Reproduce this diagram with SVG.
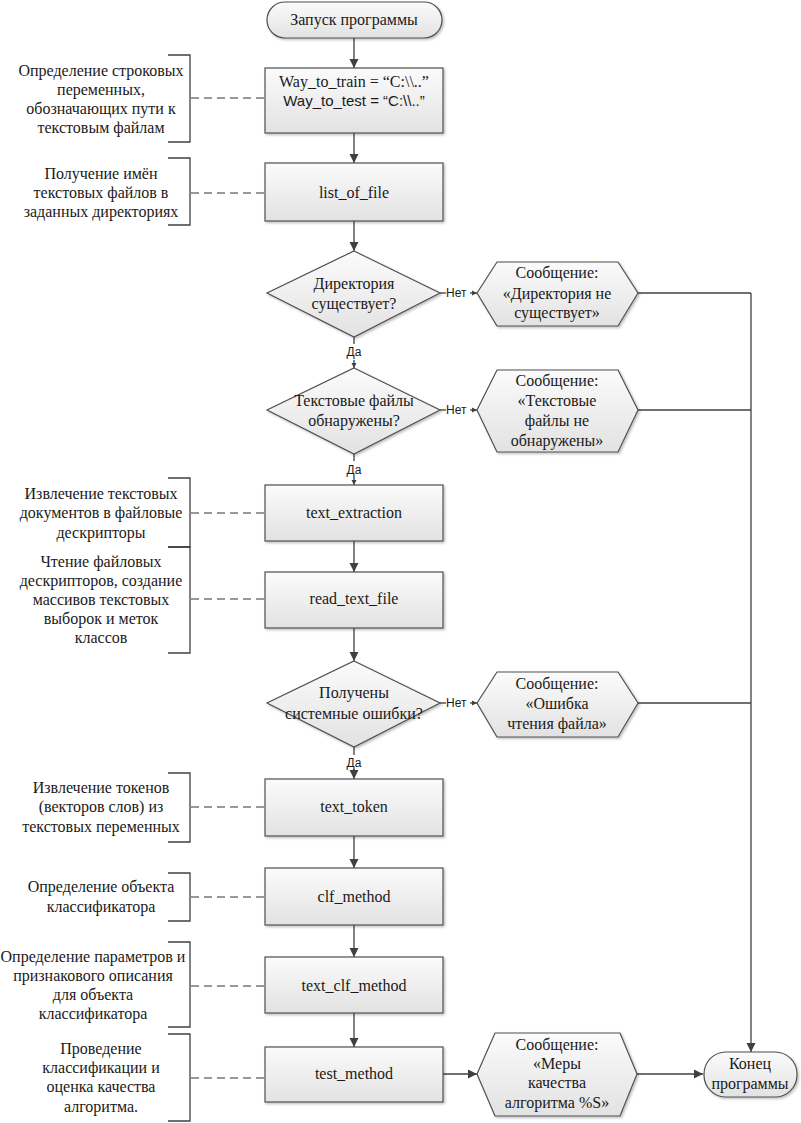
<svg xmlns="http://www.w3.org/2000/svg" width="801" height="1123" viewBox="0 0 801 1123">
<defs>
<linearGradient id="g" x1="0" y1="0" x2="0" y2="1">
<stop offset="0" stop-color="#fbfbfb"/>
<stop offset="1" stop-color="#e2e2e2"/>
</linearGradient>
<filter id="sh" x="-10%" y="-10%" width="125%" height="130%">
<feDropShadow dx="1.5" dy="1.5" stdDeviation="1" flood-color="#000" flood-opacity="0.25"/>
</filter>
<marker id="a" markerUnits="userSpaceOnUse" markerWidth="10" markerHeight="10" refX="9" refY="5" orient="auto">
<path d="M0,0.5 L9,5 L0,9.5 Z" fill="#404040"/>
</marker>
<marker id="s" markerUnits="userSpaceOnUse" markerWidth="6" markerHeight="6" refX="5" refY="3" orient="auto">
<path d="M0,0.5 L5,3 L0,5.5 Z" fill="#404040"/>
</marker>
</defs>
<style>
.n{fill:url(#g);stroke:#505050;stroke-width:1.2;filter:url(#sh)}
.t{font-family:'Liberation Serif','Times New Roman','DejaVu Serif',serif;font-size:16px;fill:#1a1a1a;text-anchor:middle}
.ts{font-family:'Liberation Sans',Arial,sans-serif;font-size:15px;fill:#1a1a1a;text-anchor:middle}
.l{font-family:'Liberation Sans',Arial,sans-serif;font-size:12px;fill:#1a1a1a}
.c{fill:none;stroke:#404040;stroke-width:1.3}
.ca{fill:none;stroke:#404040;stroke-width:1.3;marker-end:url(#a)}
.cs{fill:none;stroke:#404040;stroke-width:1.3;marker-end:url(#s)}
.d{fill:none;stroke:#333;stroke-width:1.2;stroke-dasharray:8 5}
.b{fill:none;stroke:#404040;stroke-width:1.3}
</style>

<g id="connectors">
<line class="ca" x1="354" y1="38" x2="354" y2="68"/>
<line class="ca" x1="354" y1="133" x2="354" y2="163"/>
<line class="ca" x1="354" y1="221" x2="354" y2="251"/>
<line class="c" x1="354" y1="337" x2="354" y2="344"/>
<line class="cs" x1="354" y1="360" x2="354" y2="368"/>
<line class="c" x1="354" y1="454" x2="354" y2="461"/>
<line class="cs" x1="354" y1="477" x2="354" y2="485"/>
<line class="ca" x1="354" y1="541" x2="354" y2="572"/>
<line class="ca" x1="354" y1="628" x2="354" y2="661"/>
<line class="c" x1="354" y1="747" x2="354" y2="755"/>
<line class="ca" x1="354" y1="769" x2="354" y2="779"/>
<line class="ca" x1="354" y1="836" x2="354" y2="868"/>
<line class="ca" x1="354" y1="925" x2="354" y2="957"/>
<line class="ca" x1="354" y1="1013" x2="354" y2="1047"/>
<line class="ca" x1="443" y1="1074" x2="477" y2="1074"/>
<line class="ca" x1="637" y1="1074" x2="703" y2="1074"/>
<line class="c" x1="440" y1="293" x2="446" y2="293"/>
<line class="cs" x1="470" y1="293" x2="477" y2="293"/>
<line class="c" x1="440" y1="410" x2="446" y2="410"/>
<line class="cs" x1="470" y1="410" x2="477" y2="410"/>
<line class="c" x1="440" y1="703" x2="446" y2="703"/>
<line class="cs" x1="470" y1="703" x2="477" y2="703"/>
<polyline class="c" points="638,293 751,293"/>
<polyline class="c" points="638,410 751,410"/>
<polyline class="c" points="638,703 751,703"/>
<line class="ca" x1="751" y1="293" x2="751" y2="1052"/>
<text class="l" x="354" y="356" text-anchor="middle">Да</text>
<text class="l" x="354" y="474" text-anchor="middle">Да</text>
<text class="l" x="354" y="767" text-anchor="middle" font-size="10">Да</text>
<text class="l" x="446" y="297">Нет</text>
<text class="l" x="446" y="414">Нет</text>
<text class="l" x="446" y="707">Нет</text>
<line class="d" x1="191" y1="98" x2="265" y2="98"/>
<line class="d" x1="191" y1="193" x2="265" y2="193"/>
<line class="d" x1="191" y1="513" x2="265" y2="513"/>
<line class="d" x1="191" y1="599" x2="265" y2="599"/>
<line class="d" x1="191" y1="807" x2="265" y2="807"/>
<line class="d" x1="191" y1="897" x2="265" y2="897"/>
<line class="d" x1="191" y1="986" x2="265" y2="986"/>
<line class="d" x1="191" y1="1078" x2="265" y2="1078"/>
</g>

<g id="start">
<rect class="n" x="267" y="2" width="175" height="36" rx="18"/>
<text class="t" x="354" y="25">Запуск программы</text>
</g>
<g id="paths">
<rect class="n" x="265" y="68" width="178" height="65"/>
<text class="t" x="354" y="87">Way_to_train = “C:\\..”</text>
<text class="ts" x="354" y="106">Way_to_test = “C:\\..”</text>
</g>
<g id="list_of_file">
<rect class="n" x="265" y="163" width="178" height="58"/>
<text class="t" x="354" y="198">list_of_file</text>
</g>
<g id="dir_exists">
<polygon class="n" points="354,251 440,293 354,337 267,293"/>
<text class="t" x="354" y="289">Директория</text>
<text class="t" x="354" y="309">существует?</text>
</g>
<g id="msg_dir">
<polygon class="n" points="477,293 497,262 618,262 638,293 618,326 497,326"/>
<text class="t" x="557" y="278">Сообщение:</text>
<text class="t" x="557" y="299">«Директория не</text>
<text class="t" x="557" y="318">существует»</text>
</g>
<g id="files_found">
<polygon class="n" points="354,368 440,410 354,454 267,410"/>
<text class="t" x="354" y="406">Текстовые файлы</text>
<text class="t" x="354" y="426">обнаружены?</text>
</g>
<g id="msg_files">
<polygon class="n" points="477,410 497,370 618,370 638,410 618,452 497,452"/>
<text class="t" x="557" y="386">Сообщение:</text>
<text class="t" x="557" y="406">«Текстовые</text>
<text class="t" x="557" y="426">файлы не</text>
<text class="t" x="557" y="446">обнаружены»</text>
</g>
<g id="text_extraction">
<rect class="n" x="265" y="485" width="178" height="56"/>
<text class="t" x="354" y="518">text_extraction</text>
</g>
<g id="read_text_file">
<rect class="n" x="265" y="572" width="178" height="56"/>
<text class="t" x="354" y="604">read_text_file</text>
</g>
<g id="sys_errors">
<polygon class="n" points="354,661 440,703 354,747 267,703"/>
<text class="t" x="354" y="698">Получены</text>
<text class="t" x="354" y="719">системные ошибки?</text>
</g>
<g id="msg_read">
<polygon class="n" points="477,703 497,672 618,672 638,703 618,737 497,737"/>
<text class="t" x="557" y="689">Сообщение:</text>
<text class="t" x="557" y="709">«Ошибка</text>
<text class="t" x="557" y="729">чтения файла»</text>
</g>
<g id="text_token">
<rect class="n" x="265" y="779" width="178" height="57"/>
<text class="t" x="354" y="812">text_token</text>
</g>
<g id="clf_method">
<rect class="n" x="265" y="868" width="178" height="57"/>
<text class="t" x="354" y="902">clf_method</text>
</g>
<g id="text_clf_method">
<rect class="n" x="265" y="957" width="178" height="56"/>
<text class="t" x="354" y="991">text_clf_method</text>
</g>
<g id="test_method">
<rect class="n" x="265" y="1047" width="178" height="55"/>
<text class="t" x="354" y="1079">test_method</text>
</g>
<g id="msg_metrics">
<polygon class="n" points="477,1074 495,1033 620,1033 637,1074 620,1116 495,1116"/>
<text class="t" x="557" y="1050">Сообщение:</text>
<text class="t" x="557" y="1069">«Меры</text>
<text class="t" x="557" y="1088">качества</text>
<text class="t" x="557" y="1108">алгоритма %S»</text>
</g>
<g id="end">
<rect class="n" x="704" y="1052" width="93" height="45" rx="22"/>
<text class="t" x="750" y="1069">Конец</text>
<text class="t" x="750" y="1089">программы</text>
</g>

<g id="note1">
<polyline class="b" points="168,55 190,55 190,142 168,142"/>
<text class="t" x="101" y="76">Определение строковых</text>
<text class="t" x="101" y="95">переменных,</text>
<text class="t" x="101" y="114">обозначающих пути к</text>
<text class="t" x="101" y="133">текстовым файлам</text>
</g>
<g id="note2">
<polyline class="b" points="168,158 190,158 190,225 168,225"/>
<text class="t" x="101" y="179">Получение имён</text>
<text class="t" x="101" y="198">текстовых файлов в</text>
<text class="t" x="101" y="217">заданных директориях</text>
</g>
<g id="note3">
<polyline class="b" points="168,478 190,478 190,547 168,547"/>
<text class="t" x="101" y="499">Извлечение текстовых</text>
<text class="t" x="101" y="518">документов в файловые</text>
<text class="t" x="101" y="538">дескрипторы</text>
</g>
<g id="note4">
<polyline class="b" points="168,547 190,547 190,653 168,653"/>
<text class="t" x="101" y="567">Чтение файловых</text>
<text class="t" x="101" y="586">дескрипторов, создание</text>
<text class="t" x="101" y="605">массивов текстовых</text>
<text class="t" x="101" y="624">выборок и меток</text>
<text class="t" x="101" y="643">классов</text>
</g>
<g id="note5">
<polyline class="b" points="168,773 190,773 190,842 168,842"/>
<text class="t" x="101" y="793">Извлечение токенов</text>
<text class="t" x="101" y="812">(векторов слов) из</text>
<text class="t" x="101" y="832">текстовых переменных</text>
</g>
<g id="note6">
<polyline class="b" points="168,873 190,873 190,921 168,921"/>
<text class="t" x="101" y="892">Определение объекта</text>
<text class="t" x="101" y="912">классификатора</text>
</g>
<g id="note7">
<polyline class="b" points="168,942 190,942 190,1027 168,1027"/>
<text class="t" x="93" y="962">Определение параметров и</text>
<text class="t" x="93" y="981">признакового описания</text>
<text class="t" x="93" y="1000">для объекта</text>
<text class="t" x="93" y="1019">классификатора</text>
</g>
<g id="note8">
<polyline class="b" points="168,1034 190,1034 190,1121 168,1121"/>
<text class="t" x="101" y="1054">Проведение</text>
<text class="t" x="101" y="1073">классификации и</text>
<text class="t" x="101" y="1092">оценка качества</text>
<text class="t" x="101" y="1112">алгоритма.</text>
</g>
</svg>
